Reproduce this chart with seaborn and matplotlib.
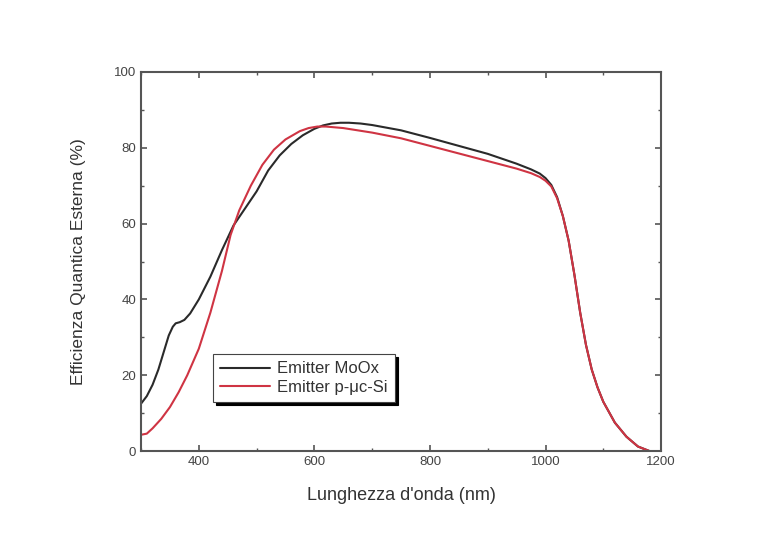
import numpy as np
import pandas as pd
import matplotlib
matplotlib.use("Agg")
import matplotlib.pyplot as plt
import seaborn as sns
from matplotlib.ticker import MultipleLocator

# curve MoOx emitter
wl_moox = [300, 310, 320, 330, 340, 348, 355, 360, 367, 375, 385, 400, 420, 440,
           460, 480, 500, 520, 540, 560, 580, 600, 615, 630, 645, 660, 680, 700,
           750, 800, 850, 900, 950, 975, 990, 1000, 1010, 1020, 1030, 1040, 1050,
           1060, 1070, 1080, 1090, 1100, 1120, 1140, 1160, 1180]
eqe_moox = [12.5, 14.5, 17.5, 21.5, 26.5, 30.5, 32.8, 33.7, 34.0, 34.6, 36.3, 40.0,
            46.0, 53.0, 59.5, 64.0, 68.5, 74.0, 78.0, 81.0, 83.3, 85.0, 85.9, 86.4,
            86.6, 86.6, 86.4, 86.0, 84.6, 82.6, 80.5, 78.4, 75.8, 74.3, 73.2, 72.0,
            70.2, 67.0, 62.0, 55.5, 46.5, 36.5, 28.0, 21.5, 16.8, 13.0, 7.5, 3.8,
            1.2, 0.0]

# curve p-uc-Si emitter
wl_psi = [300, 310, 320, 335, 350, 365, 380, 400, 420, 440, 455, 470, 490, 510,
          530, 550, 575, 590, 605, 620, 650, 700, 750, 800, 850, 900, 950, 975,
          990, 1000, 1010, 1020, 1030, 1040, 1050, 1060, 1070, 1080, 1090, 1100,
          1120, 1140, 1160, 1180]
eqe_psi = [4.3, 4.6, 6.0, 8.5, 11.6, 15.5, 20.0, 27.0, 36.5, 47.5, 57.0, 63.5,
           70.0, 75.5, 79.5, 82.2, 84.4, 85.2, 85.6, 85.6, 85.2, 84.0, 82.5, 80.5,
           78.5, 76.5, 74.5, 73.3, 72.3, 71.3, 69.8, 66.7, 62.0, 55.5, 46.5, 36.5,
           28.0, 21.5, 16.8, 13.0, 7.5, 3.8, 1.2, 0.0]

labels = ["Emitter MoOx", "Emitter p-\u03bcc-Si"]
colors = ["#2a2a2a", "#cf3443"]

df = pd.concat([
    pd.DataFrame({"wl": wl_moox, "eqe": eqe_moox, "serie": labels[0]}),
    pd.DataFrame({"wl": wl_psi, "eqe": eqe_psi, "serie": labels[1]}),
])

sns.set_style("ticks")
plt.rcParams["font.family"] = ["Liberation Sans", "DejaVu Sans"]

fig = plt.figure(figsize=(7.57, 5.37), dpi=100)
ax = fig.add_axes([0.1863, 0.160, 0.687, 0.706])

sns.lineplot(data=df, x="wl", y="eqe", hue="serie", palette=colors,
             linewidth=1.5, sort=False, ax=ax)

ax.set_xlim(300, 1200)
ax.set_ylim(0, 100)
ax.xaxis.set_major_locator(MultipleLocator(200))
ax.xaxis.set_minor_locator(MultipleLocator(100))
ax.yaxis.set_major_locator(MultipleLocator(20))
ax.yaxis.set_minor_locator(MultipleLocator(10))
ax.set_xticks([400, 600, 800, 1000, 1200])

frame_col = "#555555"
for s in ax.spines.values():
    s.set_color(frame_col)
    s.set_linewidth(1.5)
ax.tick_params(which="both", direction="in", top=True, right=True,
               color=frame_col, labelcolor="#444444", labelsize=9.5)
ax.tick_params(which="major", length=4, width=1.2)
ax.tick_params(which="minor", length=2.5, width=1.0)

ax.set_xlabel("Lunghezza d'onda (nm)", fontsize=13, color="#333333", labelpad=14)
ax.set_ylabel("Efficienza Quantica Esterna (%)", fontsize=12.5, color="#333333", labelpad=20)

leg = ax.legend(loc="lower left", bbox_to_anchor=(0.138, 0.129), fontsize=12,
                frameon=True, fancybox=False, shadow={"color": "black", "alpha": 1},
                handlelength=3.0, borderpad=0.45, labelspacing=0.2, handletextpad=0.4,
                borderaxespad=0)
leg.get_frame().set_edgecolor("#444444")
leg.get_frame().set_linewidth(0.8)
leg.get_frame().set_alpha(1)
for t in leg.get_texts():
    t.set_color("#333333")

fig.savefig("out.png", dpi=100)
